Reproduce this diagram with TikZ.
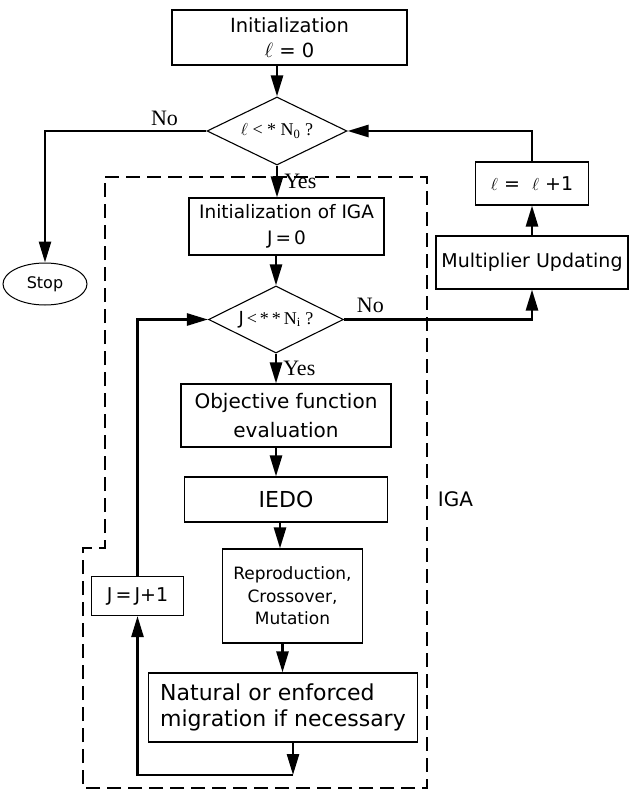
\documentclass[tikz,border=0pt]{standalone}
\usepackage{fontspec}
\newfontfamily\dejavu{DejaVu Sans}
\newfontfamily\libserif{Liberation Serif}
\usepackage{tikz}
\usetikzlibrary{arrows.meta}
\usetikzlibrary{shapes.geometric}

\begin{document}
\begin{tikzpicture}[x=1pt, y=-1pt, auto]

\tikzstyle{block} = [draw, rectangle, line width=1.1pt, align=center, inner sep=2pt]
\tikzstyle{decision} = [draw, diamond, aspect=2, line width=1.1pt, inner sep=0pt, font=\libserif\fontsize{18}{20}\selectfont]
\tikzstyle{line} = [draw, line width=2.6pt, -{Triangle[length=21pt, width=12pt]}]
\tikzstyle{tag} = [font=\libserif\fontsize{22}{24}\selectfont, inner sep=3pt]

\useasboundingbox (0,0) rectangle (630,794);

% IGA region
\draw[line width=1.1pt, dash pattern=on 14pt off 7pt]
  (105,177) -- (427,177) -- (427,788) -- (83,788) -- (83,548) -- (105,548) -- cycle;

\node[block, minimum width=235pt, minimum height=55pt, font=\dejavu\fontsize{19.5}{25}\selectfont] (1) at (289.5,37.5) {Initialization\\$\ell$~= 0};
\node[decision, minimum width=140pt, minimum height=68pt] (2) [below of=1, node distance=93.5pt, xshift=-12.5pt] {$\ell$ < * N\textsubscript{0} ?};
\node[block, minimum width=195pt, minimum height=57pt, font=\dejavu\fontsize{18.5}{26}\selectfont] (3) [below of=2, node distance=95.5pt, xshift=9.5pt] {Initialization of IGA\\J\,=\,0};
\node[decision, minimum width=135pt, minimum height=67pt] (4) [below of=3, node distance=93pt, xshift=-10.5pt] {{\dejavu J}\,<\,*\,*\,N\textsubscript{i} ?};
\node[block, minimum width=210pt, minimum height=63pt, font=\dejavu\fontsize{20}{29}\selectfont] (5) [below of=4, node distance=96pt, xshift=10pt] {Objective function\\evaluation};
\node[block, minimum width=203pt, minimum height=45pt, font=\dejavu\fontsize{22}{26}\selectfont] (6) [below of=5, node distance=84pt] {IEDO};
\node[block, minimum width=140pt, minimum height=94pt, font=\dejavu\fontsize{17}{22.5}\selectfont] (7) [below of=6, node distance=96.5pt, xshift=6.5pt] {Reproduction,\\Crossover,\\Mutation};
\node[block, minimum width=269pt, minimum height=69pt, align=left, font=\dejavu\fontsize{22}{26}\selectfont] (8) [below of=7, node distance=111.5pt, xshift=-9.5pt] {Natural or enforced\\migration if necessary};

\node[block, minimum width=92pt, minimum height=39pt, font=\dejavu\fontsize{19}{24}\selectfont] (9) [left of=7, node distance=155pt] {J\,=\,J+1};
\node[block, minimum width=192pt, minimum height=53pt, font=\dejavu\fontsize{19}{24}\selectfont] (10) [right of=3, node distance=245.5pt, yshift=-36pt] {Multiplier Updating};
\node[block, minimum width=113pt, minimum height=43pt, font=\dejavu\fontsize{19}{24}\selectfont] (11) [above of=10, node distance=79pt] {$\ell$ = ~$\ell$ +1};
\node[draw, ellipse, line width=1pt, minimum width=84pt, minimum height=42pt, inner sep=0pt, font=\dejavu\fontsize{16}{20}\selectfont] (12) [left of=3, node distance=241.5pt, yshift=-57.5pt] {Stop};

\node[font=\dejavu\fontsize{20}{24}\selectfont] (13) [right of=6, node distance=169.5pt] {IGA};

\coordinate (14) at (293,775);

  \path[line]
    (2.north |- 1.south) -- (2.north);
  \path[line]
    (2.south) -- node[tag, right, xshift=3pt] {Yes} (2.south |- 3.north);
  \path[line]
    (2.west) -| node[tag, above, pos=0.13, yshift=1pt] {No} (12.north);
  \path[line]
    (4.north |- 3.south) -- (4.north);
  \path[line]
    (4.south) -- node[tag, right, xshift=3pt] {Yes} (4.south |- 5.north);
  \path[line]
    (4.east) -| node[tag, above, pos=0.07, yshift=2pt] {No} (10.south);
  \path[line]
    (10.north) -- (11.south);
  \path[line]
    (11.north) |- (2.east);
  \path[line]
    (4.south |- 5.south) -- (4.south |- 6.north);
  \path[line]
    ([xshift=-6pt]6.south) -- ([xshift=-6pt]6.south |- 7.north);
  \path[line]
    ([xshift=-10pt]7.south) -- ([xshift=-10pt]7.south |- 8.north);
  \path[line]
    (14 |- 8.south) -- (14);
  \path[line]
    (14) -| (9.south);
  \path[line]
    (9.north) |- (4.west);
\end{tikzpicture}
\end{document}
